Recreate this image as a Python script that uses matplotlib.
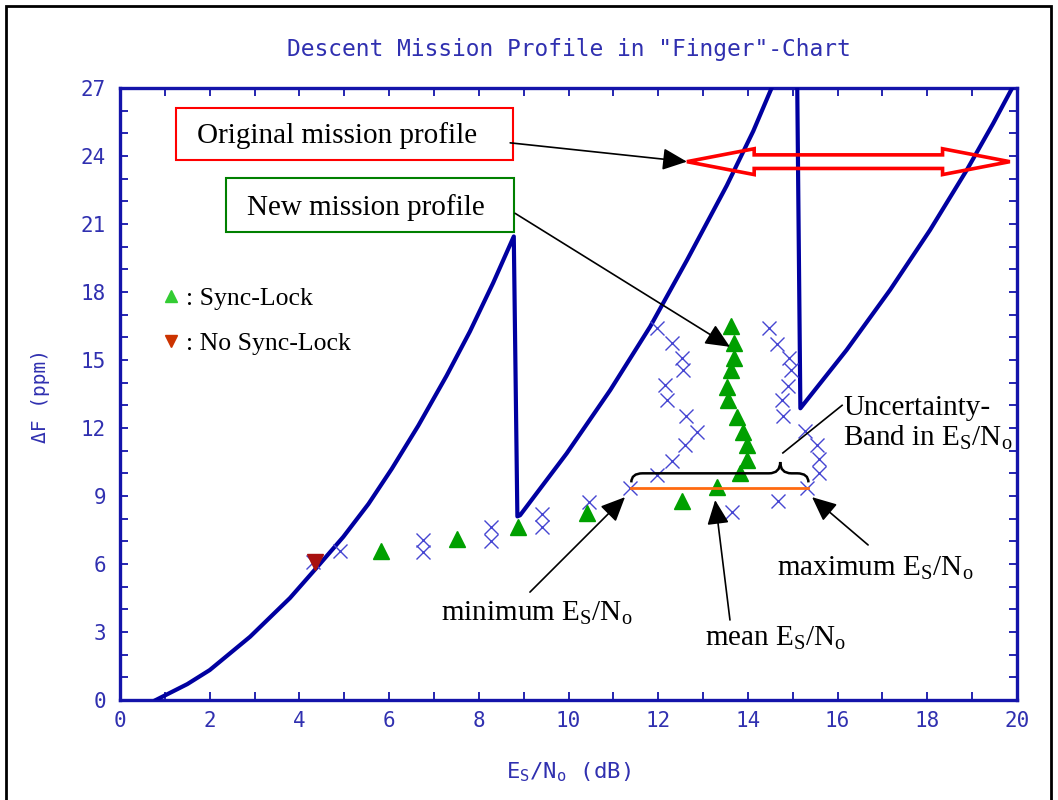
import matplotlib.pyplot as plt
import matplotlib.patches as mpatches
from matplotlib.path import Path
from matplotlib.lines import Line2D

# граница "пальцев": первые два пальца одной линией, третий отдельно
edge_a_x = [0.80, 1.50, 2.00, 2.90, 3.79, 4.39, 4.98, 5.54, 6.06, 6.65, 7.28, 7.80, 8.32, 8.78,
            8.86, 8.92, 9.96, 10.93, 11.82, 12.64, 13.53, 14.12, 14.55]
edge_a_y = [0.00, 0.70, 1.32, 2.79, 4.50, 5.85, 7.20, 8.65, 10.20, 12.10, 14.30, 16.25, 18.40, 20.45,
            8.10, 8.15, 10.88, 13.67, 16.47, 19.40, 22.70, 25.10, 27.10]
edge_b_x = [15.10, 15.17, 16.20, 17.17, 18.06, 18.88, 19.47, 19.92]
edge_b_y = [27.10, 12.87, 15.44, 18.09, 20.73, 23.38, 25.44, 27.10]

# измерения (синие крестики)
cross_x = [4.31, 4.91, 6.75, 6.75, 8.27, 8.27, 9.40, 9.40, 10.46, 11.37, 11.97, 12.30, 12.60,
           12.86, 12.62, 12.19, 12.15, 12.56, 12.52, 12.30, 11.97, 13.64, 14.68, 15.31, 15.59,
           15.59, 15.55, 15.27, 14.79, 14.75, 14.90, 14.95, 14.92, 14.64, 14.46]
cross_y = [6.10, 6.57, 7.06, 6.54, 7.65, 7.03, 8.20, 7.62, 8.75, 9.34, 9.92, 10.56, 11.25,
           11.81, 12.53, 13.23, 13.90, 14.56, 15.07, 15.73, 16.40, 8.28, 8.78, 9.37, 10.03,
           10.62, 11.25, 11.88, 12.53, 13.23, 13.85, 14.56, 15.07, 15.69, 16.40]

# Sync-Lock (зелёные треугольники)
lock_x = [5.82, 7.51, 8.87, 10.42, 12.54, 13.30, 13.82, 13.97, 13.97, 13.90, 13.75, 13.55,
          13.53, 13.62, 13.68, 13.68, 13.62]
lock_y = [6.59, 7.09, 7.65, 8.23, 8.78, 9.41, 10.00, 10.59, 11.25, 11.84, 12.50, 13.23,
          13.82, 14.56, 15.07, 15.76, 16.50]

# No Sync-Lock
nolock_x = [4.35]
nolock_y = [6.10]

# полоса неопределённости Es/No
band_lo, band_hi, band_y = 11.40, 15.35, 9.37
# исходный профиль миссии (красная двойная стрелка)
orig_lo, orig_hi, orig_y = 12.64, 19.84, 23.75

navy = '#0000a0'
frame_c = '#1414aa'
text_c = '#3030b0'
serif = ['Liberation Serif', 'DejaVu Serif']

plt.rcParams['font.family'] = ['DejaVu Sans Mono', 'DejaVu Sans']

fig = plt.figure(figsize=(10.58, 8), dpi=100)
ax = fig.add_axes([120 / 1058, 100 / 800, 897 / 1058, 612 / 800])

# рамка вокруг всей картинки
fig.patches.append(mpatches.Rectangle((6 / 1058, -0.01), 1045 / 1058, 1.0025,
                                      transform=fig.transFigure, fill=False,
                                      ec='black', lw=2))

ax.plot(edge_a_x, edge_a_y, color=navy, lw=3, zorder=3)
ax.plot(edge_b_x, edge_b_y, color=navy, lw=3, zorder=3)
ax.plot(cross_x, cross_y, ls='none', marker='x', ms=9.5, mew=1.0, color='#4646d2', zorder=4)
ax.plot(lock_x, lock_y, ls='none', marker='^', ms=12, color='#00a000', zorder=5)
ax.plot(nolock_x, nolock_y, ls='none', marker='v', ms=12, color='#a81010', zorder=5)
ax.plot([band_lo, band_hi], [band_y, band_y], color='#ff6a10', lw=2, zorder=6)

ax.set_xlim(0, 20)
ax.set_ylim(0, 27)
ax.set_xticks(range(0, 21, 2))
ax.set_xticks(range(0, 21), minor=True)
ax.set_yticks(range(0, 28, 3))
ax.set_yticks(range(0, 28), minor=True)
ax.tick_params(which='both', direction='in', top=True, right=True, length=6,
               width=1.3, color=frame_c)
ax.tick_params(axis='both', labelsize=15, labelcolor=text_c)
ax.tick_params(axis='x', pad=8)
ax.tick_params(axis='y', pad=10)
for s in ax.spines.values():
    s.set_color(frame_c)
    s.set_linewidth(2.4)

fig.text(0.5373, 1 - 56 / 800, 'Descent Mission Profile in "Finger"-Chart',
         ha='center', va='baseline', fontsize=16.5, color=text_c)
fig.text(0.5373, 1 - 772 / 800, r'E$_\mathregular{S}$/N$_\mathregular{o}$ (dB)',
         ha='center', va='center', fontsize=16, color=text_c)
fig.text(40 / 1058, 1 - 396 / 800, 'ΔF (ppm)', rotation=90,
         ha='center', va='center', fontsize=14, color=text_c)

# красная полая двойная стрелка
hl, hw, bw = 1.5, 0.57, 0.30
verts = [(orig_lo, orig_y), (orig_lo + hl, orig_y + hw), (orig_lo + hl, orig_y + bw),
         (orig_hi - hl, orig_y + bw), (orig_hi - hl, orig_y + hw), (orig_hi, orig_y),
         (orig_hi - hl, orig_y - hw), (orig_hi - hl, orig_y - bw), (orig_lo + hl, orig_y - bw),
         (orig_lo + hl, orig_y - hw)]
ax.add_patch(mpatches.Polygon(verts, closed=True, fill=False, ec='#ff0000', lw=2.6, zorder=7))

# рамки с подписями
ax.add_patch(mpatches.Rectangle((1.25, 23.82), 7.52, 2.29, fill=False, ec='#ff0000',
                                lw=1.5, clip_on=False, zorder=8))
ax.text(4.85, 24.57, 'Original mission profile', ha='center', va='baseline',
        family=serif, fontsize=21)
ax.add_patch(mpatches.Rectangle((2.36, 20.63), 6.43, 2.41, fill=False, ec='#008000',
                                lw=1.5, clip_on=False, zorder=8))
ax.text(5.49, 21.39, 'New mission profile', ha='center', va='baseline',
        family=serif, fontsize=21)

arrow = dict(arrowstyle='-|>,head_length=1.0,head_width=0.45', mutation_scale=15,
             color='black', lw=1.2, shrinkA=0, shrinkB=0)
ax.annotate('', xy=(orig_lo, orig_y), xytext=(8.70, 24.58), arrowprops=arrow, zorder=9)
ax.annotate('', xy=(13.60, 15.58), xytext=(8.81, 21.47), arrowprops=arrow, zorder=9)
ax.annotate('', xy=(11.26, 8.95), xytext=(9.14, 4.76), arrowprops=arrow, zorder=9)
ax.annotate('', xy=(13.27, 8.82), xytext=(13.60, 3.53), arrowprops=arrow, zorder=9)
ax.annotate('', xy=(15.43, 8.95), xytext=(16.68, 6.84), arrowprops=arrow, zorder=9)

es_no = r'E$_\mathregular{S}$/N$_\mathregular{o}$'
ax.text(7.15, 3.53, 'minimum ' + es_no, ha='left', va='baseline', family=serif, fontsize=21)
ax.text(13.05, 2.43, 'mean ' + es_no, ha='left', va='baseline', family=serif, fontsize=21)
ax.text(14.65, 5.51, 'maximum ' + es_no, ha='left', va='baseline', family=serif, fontsize=21)
ax.text(16.12, 12.57, 'Uncertainty-', ha='left', va='baseline', family=serif, fontsize=21)
ax.text(16.12, 11.25, 'Band in ' + es_no, ha='left', va='baseline', family=serif, fontsize=21)

# фигурная скобка над полосой
r, xt = 0.25, 14.72
y_end, y_mid, y_tip = 9.6, 10.0, 10.5
brace = Path([(band_lo, y_end), (band_lo, y_mid), (band_lo + r, y_mid),
              (xt - r, y_mid), (xt, y_mid), (xt, y_tip), (xt, y_mid), (xt + r, y_mid),
              (band_hi - r, y_mid), (band_hi, y_mid), (band_hi, y_end)],
             [Path.MOVETO, Path.CURVE3, Path.CURVE3, Path.LINETO, Path.CURVE3, Path.CURVE3,
              Path.CURVE3, Path.CURVE3, Path.LINETO, Path.CURVE3, Path.CURVE3])
ax.add_patch(mpatches.PathPatch(brace, fill=False, ec='black', lw=1.8, zorder=6))
ax.plot([14.78, 16.10], [10.9, 13.0], color='black', lw=1.2, zorder=6)

handles = [Line2D([], [], ls='none', marker='^', ms=9, color='#33cc33', label=': Sync-Lock'),
           Line2D([], [], ls='none', marker='v', ms=9, color='#cc3300', label=': No Sync-Lock')]
ax.legend(handles=handles, loc='upper left', bbox_to_anchor=(0.048, 0.675), frameon=False,
          prop={'family': serif, 'size': 18.5}, handlelength=0.6, handletextpad=0.3,
          labelspacing=0.87, borderpad=0, borderaxespad=0)

fig.savefig('out.png', dpi=100)
